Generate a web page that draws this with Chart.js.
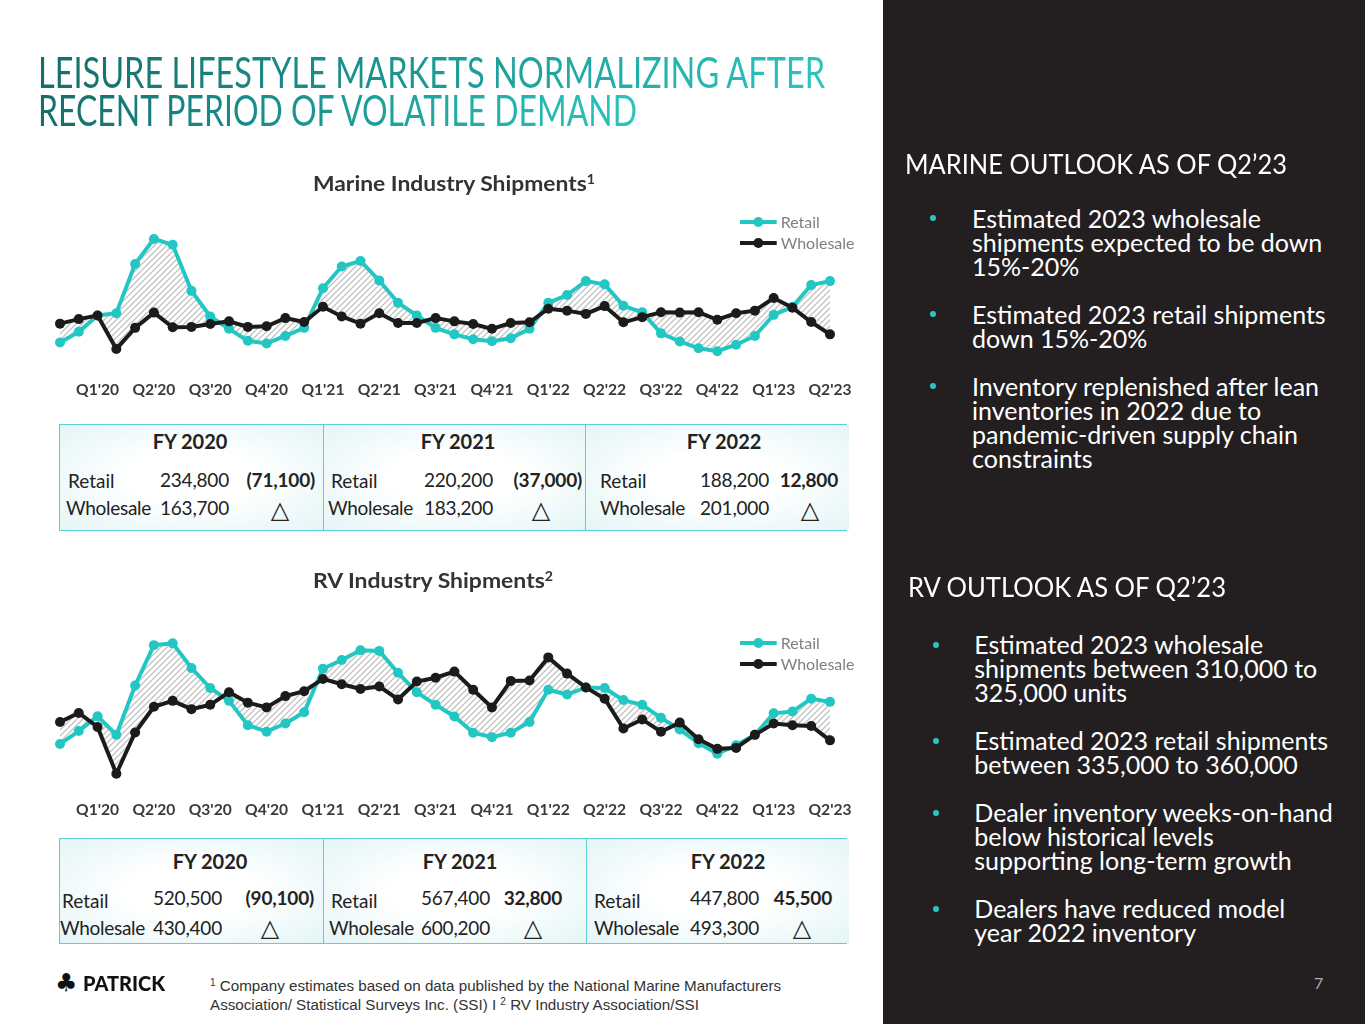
<!DOCTYPE html>
<html><head><meta charset="utf-8">
<script src="https://cdn.jsdelivr.net/npm/chart.js@4.4.0/dist/chart.umd.min.js"></script>
<style>
html,body{margin:0;padding:0;}
body{width:1365px;height:1024px;position:relative;overflow:hidden;background:#fff;font-family:Lato,'Open Sans',sans-serif;}
.abs{position:absolute;white-space:nowrap;}
#panel{position:absolute;left:883px;top:0;width:482px;height:1024px;background:#231f20;}
.ttl{position:absolute;left:38px;font-family:Lato;font-weight:400;font-size:42px;line-height:42px;white-space:nowrap;transform-origin:0 0;display:inline-block;
 background:linear-gradient(90deg,#166d69 0%,#1a9591 45%,#2bc4be 100%);-webkit-background-clip:text;background-clip:text;color:transparent;}
.ctitle{position:absolute;left:313px;font-family:Lato;font-weight:700;font-size:21px;line-height:21px;color:#333;white-space:nowrap;transform-origin:0 0;display:inline-block;}
.ctitle sup{font-size:13px;line-height:0;vertical-align:7px;}
.chartbox{position:absolute;left:20px;width:850px;height:210px;}
.hdr{position:absolute;font-family:Lato;font-weight:400;font-size:27px;line-height:27px;color:#fff;white-space:nowrap;transform-origin:0 0;display:inline-block;}
.bul{position:absolute;font-family:Lato;font-size:25px;line-height:24px;color:#fff;}
.bul div{position:relative;margin-bottom:24px;white-space:nowrap;}
.bul div span.dot{position:absolute;width:6px;height:6px;border-radius:3px;background:#2ac4c4;}
.tbl{position:absolute;border:1.5px solid #5fcfcf;box-sizing:border-box;}
.cell{position:absolute;top:0;bottom:0;background:radial-gradient(ellipse at 50% 50%,#ffffff 35%,#e4f5f6 100%);}
.t{position:absolute;white-space:nowrap;font-family:Lato;color:#222;}
.foot{position:absolute;left:210px;top:976px;font-family:'Liberation Sans',Arial,sans-serif;font-size:15.2px;line-height:19px;color:#333;white-space:nowrap;}
.foot sup{font-size:10px;line-height:0;vertical-align:5px;}
</style></head><body>
<div id="panel"></div>
<div class="ttl" id="t1" style="top:50.7px">LEISURE LIFESTYLE MARKETS NORMALIZING AFTER</div>
<div class="ttl" id="t2" style="top:88.7px">RECENT PERIOD OF VOLATILE DEMAND</div>

<div class="ctitle" id="ct1" style="top:172px">Marine Industry Shipments<sup>1</sup></div>
<div class="chartbox" style="top:200px"><canvas id="marine" width="850" height="210"></canvas></div>
<div class="ctitle" id="ct2" style="top:569px">RV Industry Shipments<sup>2</sup></div>
<div class="chartbox" style="top:620px"><canvas id="rv" width="850" height="210"></canvas></div>

<div id="marineTable"></div>
<div id="rvTable"></div>

<div class="hdr" id="h1" style="left:905px;top:150.4px">MARINE OUTLOOK AS OF Q2’23</div>
<div class="bul" style="left:972px;top:205.6px">
 <div><span class="dot" style="left:-42.3px;top:9.7px"></span>Estimated 2023 wholesale<br>shipments expected to be down<br>15%-20%</div>
 <div><span class="dot" style="left:-42.3px;top:9.7px"></span>Estimated 2023 retail shipments<br>down 15%-20%</div>
 <div><span class="dot" style="left:-42.3px;top:9.7px"></span>Inventory replenished after lean<br>inventories in 2022 due to<br>pandemic-driven supply chain<br>constraints</div>
</div>
<div class="hdr" id="h2" style="left:908px;top:573.4px">RV OUTLOOK AS OF Q2’23</div>
<div class="bul" style="left:974.3px;top:632.3px">
 <div><span class="dot" style="left:-41.3px;top:9.7px"></span>Estimated 2023 wholesale<br>shipments between 310,000 to<br>325,000 units</div>
 <div><span class="dot" style="left:-41.3px;top:9.7px"></span>Estimated 2023 retail shipments<br>between 335,000 to 360,000</div>
 <div><span class="dot" style="left:-41.3px;top:9.7px"></span>Dealer inventory weeks-on-hand<br>below historical levels<br>supporting long-term growth</div>
 <div><span class="dot" style="left:-41.3px;top:9.7px"></span>Dealers have reduced model<br>year 2022 inventory</div>
</div>

<div class="abs" style="left:55px;top:969px;font-family:'DejaVu Sans';font-size:25px;line-height:28px;color:#111;">♣</div>
<div class="abs" id="logo" style="left:83px;top:973px;font-family:Lato;font-weight:900;font-size:20px;line-height:20px;color:#111;transform-origin:0 0;display:inline-block;">PATRICK</div>
<div class="foot"><sup>1</sup> Company estimates based on data published by the National Marine Manufacturers<br>Association/ Statistical Surveys Inc. (SSI) I <sup>2</sup> RV Industry Association/SSI</div>
<div class="abs" style="left:1314px;top:974.5px;font-family:Lato;font-size:16px;line-height:16px;color:#b0b0b0;">7</div>

<script>
// ---------- DATA ----------
const months = ["Jan'20","Feb'20","Mar'20","Apr'20","May'20","Jun'20","Jul'20","Aug'20","Sep'20","Oct'20","Nov'20","Dec'20",
 "Jan'21","Feb'21","Mar'21","Apr'21","May'21","Jun'21","Jul'21","Aug'21","Sep'21","Oct'21","Nov'21","Dec'21",
 "Jan'22","Feb'22","Mar'22","Apr'22","May'22","Jun'22","Jul'22","Aug'22","Sep'22","Oct'22","Nov'22","Dec'22",
 "Jan'23","Feb'23","Mar'23","Apr'23","May'23","Jun'23"];
const quarterTicks = ["Q1'20","Q2'20","Q3'20","Q4'20","Q1'21","Q2'21","Q3'21","Q4'21","Q1'22","Q2'22","Q3'22","Q4'22","Q1'23","Q2'23"];

const marineRetail = [8300,11600,16600,17300,32500,40200,38400,24200,16300,12500,8800,8000,
 10300,12800,25000,31700,33400,27400,20500,16600,12800,10800,9300,8700,
 9600,12500,20500,22900,27200,26200,19600,17600,11100,8600,6500,5600,
 7600,10300,16800,19300,26000,27200];
const marineWholesale = [14100,15500,16600,6300,12800,17500,13000,13100,14000,14800,13100,13300,
 15800,14600,19300,16300,14100,17300,14300,14300,15800,14800,14000,12500,
 14300,14500,18700,18100,17100,19500,14500,16100,17600,17500,17600,15300,
 17300,18100,22000,19000,14600,10800];
const rvRetail = [21700,28200,35700,26300,51300,71700,72600,60100,50000,43500,31200,27900,
 32000,37700,59800,64200,69100,68800,57700,47900,41500,35600,27400,25100,
 27400,32800,49100,46700,50300,50000,43900,41500,34900,29000,22100,16700,
 21000,26300,37200,38100,44600,43000];
const rvWholesale = [32800,37400,30300,6600,27500,40500,43500,39300,41500,47900,42600,40200,
 45900,48400,54600,51900,49500,50800,44200,53300,55200,58300,49100,40200,
 53600,53800,65500,57300,50300,44600,29500,34100,27900,32500,24100,19200,
 19700,26300,32000,31200,30800,23500];

const fyYears = ['FY 2020','FY 2021','FY 2022'];
const marineRetailFY = ['234,800','220,200','188,200'];
const marineWholesaleFY = ['163,700','183,200','201,000'];
const marineDeltaFY = ['(71,100)','(37,000)','12,800'];
const rvRetailFY = ['520,500','567,400','447,800'];
const rvWholesaleFY = ['430,400','600,200','493,300'];
const rvDeltaFY = ['(90,100)','32,800','45,500'];

// ---------- STYLE / LAYOUT ----------
const TEAL = '#22c7c3', BLACK = '#1b1b1b';
const marineLayout = {top:424,bottom:531,left:59,right:847,yYear:442,yRetail:481,yNum:480,yWh:508,yTri:510,
 cells:[{l:59,r:322,yc:190,rl:68,wl:66,nr:229,dr:315,tc:280},{l:322,r:584,yc:458,rl:331,wl:328,nr:493,dr:582,tc:541},{l:584,r:847,yc:724,rl:600,wl:600,nr:769,dr:838,tc:810}]};
const rvLayout = {top:838,bottom:944,left:59,right:847,yYear:862,yRetail:901,yNum:898,yWh:928,yTri:928,
 cells:[{l:59,r:322,yc:210,rl:62,wl:60,nr:222,dr:314,tc:270},{l:322,r:585,yc:460,rl:331,wl:329,nr:490,dr:562,tc:533},{l:585,r:847,yc:728,rl:594,wl:594,nr:759,dr:832,tc:802}]};

function txt(parent, s, x, cy, o) {
  const size = o.size || 20;
  const e = document.createElement('div');
  e.className = 't';
  e.textContent = s;
  e.style.fontSize = size + 'px';
  e.style.lineHeight = size + 'px';
  if (o.weight) e.style.fontWeight = o.weight;
  if (o.family) e.style.fontFamily = o.family;
  if (o.ls) e.style.letterSpacing = o.ls + 'px';
  e.style.top = (cy - 0.528 * size) + 'px';
  if (o.align === 'right') { e.style.right = (1365 - x) + 'px'; }
  else if (o.align === 'center') { e.style.left = x + 'px'; e.style.transform = 'translateX(-50%)'; }
  else e.style.left = x + 'px';
  parent.appendChild(e);
}
function buildTable(host, L, retailFY, whFY, deltaFY) {
  const box = document.createElement('div');
  box.className = 'tbl';
  box.style.left = L.left + 'px'; box.style.top = L.top + 'px';
  box.style.width = (L.right - L.left) + 'px'; box.style.height = (L.bottom - L.top) + 'px';
  L.cells.forEach((c, i) => {
    const cell = document.createElement('div');
    cell.className = 'cell';
    cell.style.left = (c.l - L.left) + 'px'; cell.style.width = (c.r - c.l) + 'px';
    if (i > 0) cell.style.borderLeft = '1.5px solid #5fcfcf';
    box.appendChild(cell);
  });
  host.appendChild(box);
  L.cells.forEach((c, i) => {
    txt(host, fyYears[i], c.yc, L.yYear, {size:20, weight:700, align:'center'});
    txt(host, 'Retail', c.rl, L.yRetail, {size:19});
    txt(host, retailFY[i], c.nr, L.yNum, {size:19, align:'right', ls:-0.2});
    txt(host, deltaFY[i], c.dr, L.yNum, {size:19, weight:700, align:'right', ls:-0.2});
    txt(host, 'Wholesale', c.wl, L.yWh, {size:19, ls:-0.3});
    txt(host, whFY[i], c.nr, L.yWh, {size:19, align:'right', ls:-0.2});
    txt(host, '△', c.tc, L.yTri + 1, {size:24, family:'DejaVu Sans', align:'center'});
  });
}
buildTable(document.getElementById('marineTable'), marineLayout, marineRetailFY, marineWholesaleFY, marineDeltaFY);
buildTable(document.getElementById('rvTable'), rvLayout, rvRetailFY, rvWholesaleFY, rvDeltaFY);

// hatch pattern
function makeHatch() {
  const p = document.createElement('canvas'); p.width = 6; p.height = 6;
  const c = p.getContext('2d');
  c.strokeStyle = '#c2c2c2'; c.lineWidth = 1.3;
  c.beginPath();
  c.moveTo(-1,7); c.lineTo(7,-1);
  c.moveTo(-4,4); c.lineTo(4,-4);
  c.moveTo(2,10); c.lineTo(10,2);
  c.stroke();
  return c.createPattern(p, 'repeat');
}
const hatch = makeHatch();

const cornerLegend = {
  id: 'cornerLegend',
  afterDraw(chart, args, opts) {
    const ctx = chart.ctx, ca = chart.chartArea;
    ctx.save();
    chart.data.datasets.forEach((ds, i) => {
      const y = opts.top + i * 21;
      const x0 = ca.right - 90, x1 = ca.right - 53.3;
      ctx.strokeStyle = ds.borderColor; ctx.lineWidth = 4;
      ctx.beginPath(); ctx.moveTo(x0, y); ctx.lineTo(x1, y); ctx.stroke();
      ctx.fillStyle = ds.borderColor;
      ctx.beginPath(); ctx.arc((x0 + x1) / 2, y, 5, 0, Math.PI * 2); ctx.fill();
      ctx.fillStyle = '#808080'; ctx.font = '16px Lato'; ctx.textBaseline = 'middle';
      ctx.fillText(ds.label, x1 + 4, y + 1);
    });
    ctx.restore();
  }
};

function makeChart(id, retail, wholesale, yMax, axisHeight, tickPad, legendTop) {
  return new Chart(document.getElementById(id), {
    type: 'line',
    data: { labels: months, datasets: [
      { label: 'Retail', data: retail, borderColor: TEAL, backgroundColor: TEAL, pointBackgroundColor: TEAL,
        pointBorderWidth: 0, pointRadius: 5, borderWidth: 4, tension: 0, order: 1,
        fill: { target: '+1', above: hatch, below: hatch } },
      { label: 'Wholesale', data: wholesale, borderColor: BLACK, backgroundColor: BLACK, pointBackgroundColor: BLACK,
        pointBorderWidth: 0, pointRadius: 5, borderWidth: 4, tension: 0, order: 0, fill: false }
    ]},
    options: {
      responsive: false, animation: false, maintainAspectRatio: false,
      layout: { padding: { left: 40, right: 40, top: 0, bottom: 0 } },
      plugins: { legend: { display: false }, tooltip: { enabled: false }, title: { display: false },
        filler: { drawTime: 'beforeDatasetsDraw' }, cornerLegend: { top: legendTop } },
      scales: {
        x: { grid: { display: false, drawTicks: false }, border: { display: false },
             ticks: { autoSkip: false, maxRotation: 0, padding: tickPad, color: '#3a3a3a',
                      font: { family: 'Lato', weight: 'bold', size: 15.6 },
                      callback: (v, i) => (i % 3 === 2 ? quarterTicks[(i - 2) / 3] : '') },
             afterFit: (s) => { s.height = axisHeight; } },
        y: { display: false, min: 0, max: yMax }
      }
    },
    plugins: [cornerLegend]
  });
}
makeChart('marine', marineRetail, marineWholesale, 50650, 40.6, 11.2, 22);
makeChart('rv', rvRetail, rvWholesale, 81900, 43.2, 13.8, 23);

function fitW(id, w) {
  const e = document.getElementById(id);
  const cur = e.getBoundingClientRect().width;
  e.style.transform = 'scaleX(' + (w / cur) + ')';
}
fitW('t1', 787); fitW('t2', 599); fitW('h1', 382); fitW('h2', 318); fitW('logo', 82);
fitW('ct1', 282); fitW('ct2', 240);
</script>
</body></html>
